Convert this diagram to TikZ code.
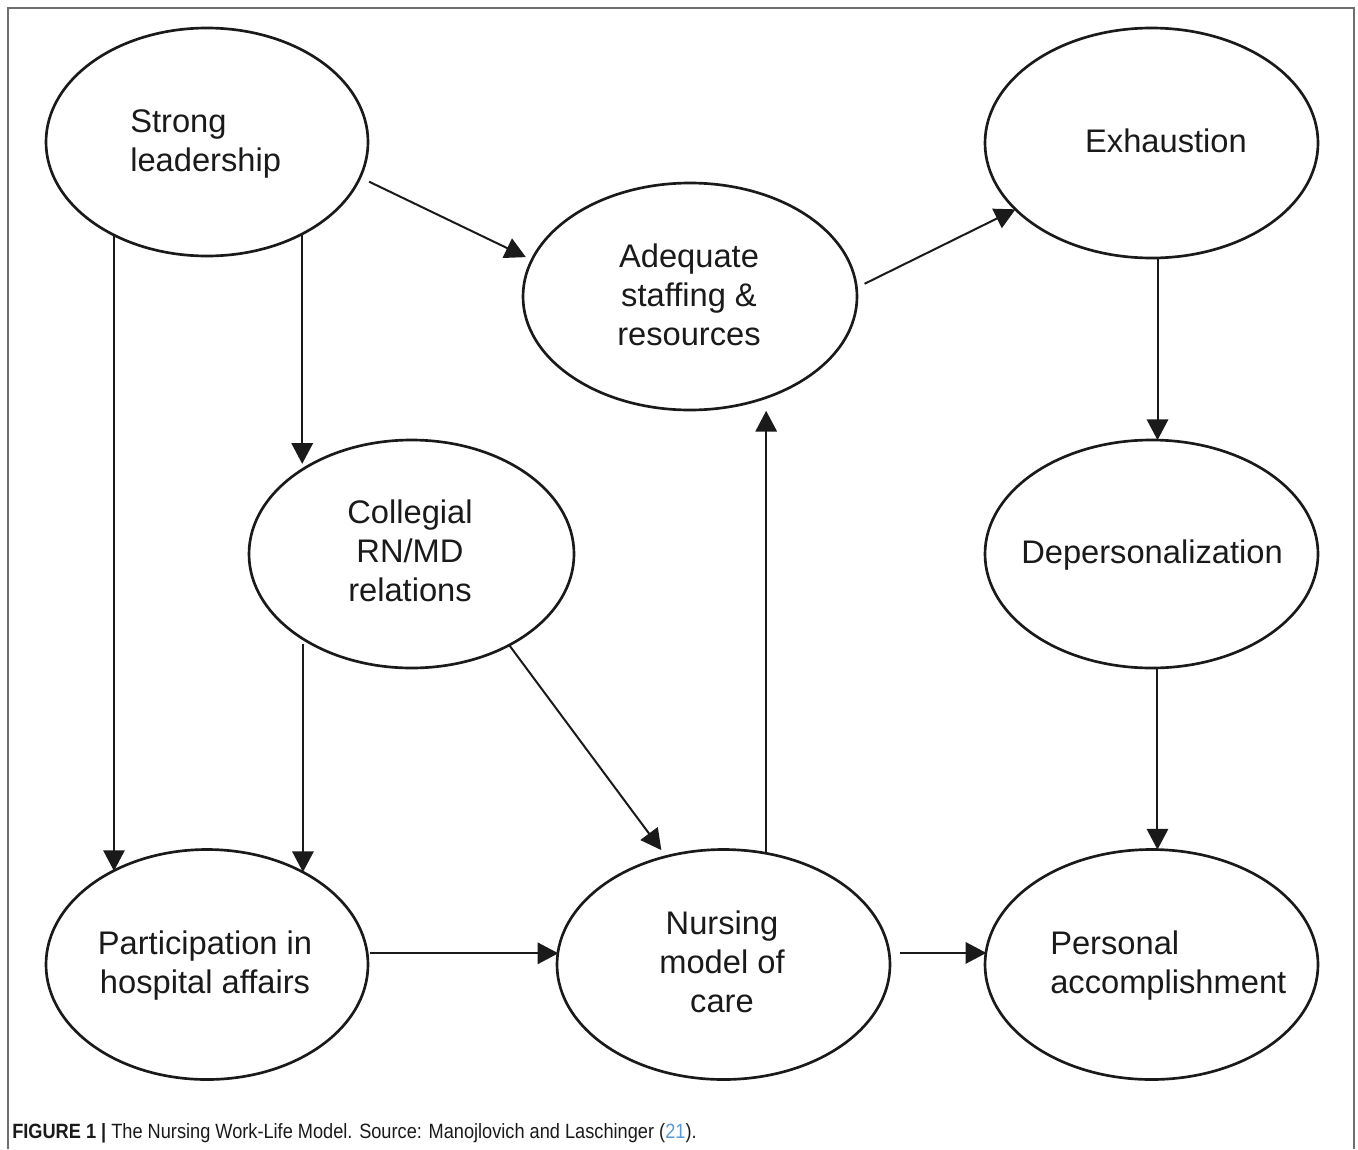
\documentclass[tikz,border=0pt]{standalone}
\usepackage{fontspec}
\setmainfont{Liberation Sans}
\newfontfamily\capfont[FakeStretch=0.88]{Liberation Sans}
\usetikzlibrary{shapes.geometric,arrows.meta}
\definecolor{refblue}{HTML}{5B9BD5}
\definecolor{framegray}{HTML}{6E6E6E}
\definecolor{inkcol}{HTML}{1A1A1A}
\begin{document}
\begin{tikzpicture}[x=0.75pt,y=-0.75pt,
  ell/.style 2 args={draw=inkcol, line width=2pt, ellipse, inner sep=0pt, outer sep=0pt,
    minimum width=#1*0.75pt, minimum height=#2*0.75pt},
  lbl/.style={font=\fontsize{24.5}{29.4}\selectfont, text=inkcol, align=center, inner sep=0pt},
  lbll/.style={lbl, align=left, anchor=west},
  arr/.style={draw=inkcol, line width=1.5pt, -{Triangle[length=15.5pt,width=16pt]}}]
\useasboundingbox (0,0) rectangle (1358,1149);
% frame
\draw[framegray, line width=1.4pt] (8,1149) -- (8,8) -- (1354,8) -- (1354,1149);
% ellipses
\node[ell={322}{228}] (sl) at (207,142) {};
\node[ell={334}{227}] (as) at (690,296.5) {};
\node[ell={333}{230}] (ex) at (1151.5,143) {};
\node[ell={325}{228}] (cr) at (411.5,554) {};
\node[ell={333}{228}] (dp) at (1151.5,554) {};
\node[ell={322}{230}] (pa) at (207,964.5) {};
\node[ell={333}{230}] (nm) at (723.5,964.5) {};
\node[ell={333}{230}] (pc) at (1151.5,964.5) {};
% texts
\node[lbll] (slt) at (130,144) {Strong\\leadership};
\node[lbl] (ast) at (689,295) {Adequate\\staffing \&\\resources};
\node[lbl] (ext) at (1166,141) {Exhaustion};
\node[lbl] (crt) at (410,551) {Collegial\\RN/MD\\relations};
\node[lbl] (dpt) at (1152,555) {Depersonalization};
\node[lbl] (pat) at (205,965.5) {Participation in\\hospital affairs};
\node[lbl] (nmt) at (722,962) {Nursing\\model of\\care};
\node[lbll] (pct) at (1050,965.5) {Personal\\accomplishment};
% connectors
\draw[arr, shorten <=7.5pt, shorten >=5pt] (sl.-13.9) -- (as.167.4);
\draw[arr, shorten <=6.75pt] (as.3.41) -- (ex.206.3);
\draw[arr] (ex.-87.26) -- (ex.-87.26 |- dp.87.26);
\draw[arr] (dp.-87.26) -- (dp.-87.26 |- pc.87.26);
\draw[arr, shorten >=4pt] (sl.-44.08) -- (sl.-44.08 |- cr.142.44);
\draw[arr] (sl.-135.43) -- (sl.-135.43 |- pa.135.18);
\draw[arr, shorten <=4pt] (cr.-142.44) -- (cr.-142.44 |- pa.44.36);
\draw[arr, shorten >=6pt] (cr.-43.32) -- (nm.118.49);
\draw[arr, shorten <=2pt] (pa.4.285) -- (pa.4.285 -| nm.175.855);
\draw[arr, shorten <=8pt] (nm.4.145) -- (nm.4.145 -| pc.175.855);
\draw[arr, shorten >=10pt] (nm.69.57) -- (nm.69.57 |- as.-53.51);
% caption
\node[anchor=base west, inner sep=0pt, font=\capfont\fontsize{15.5}{18}\selectfont, text=inkcol] (cap) at (12,1138)
  {{\bfseries FIGURE 1 |} The Nursing Work-Life Model. Source: Manojlovich and Laschinger ({\color{refblue}21}).};
\end{tikzpicture}
\end{document}
